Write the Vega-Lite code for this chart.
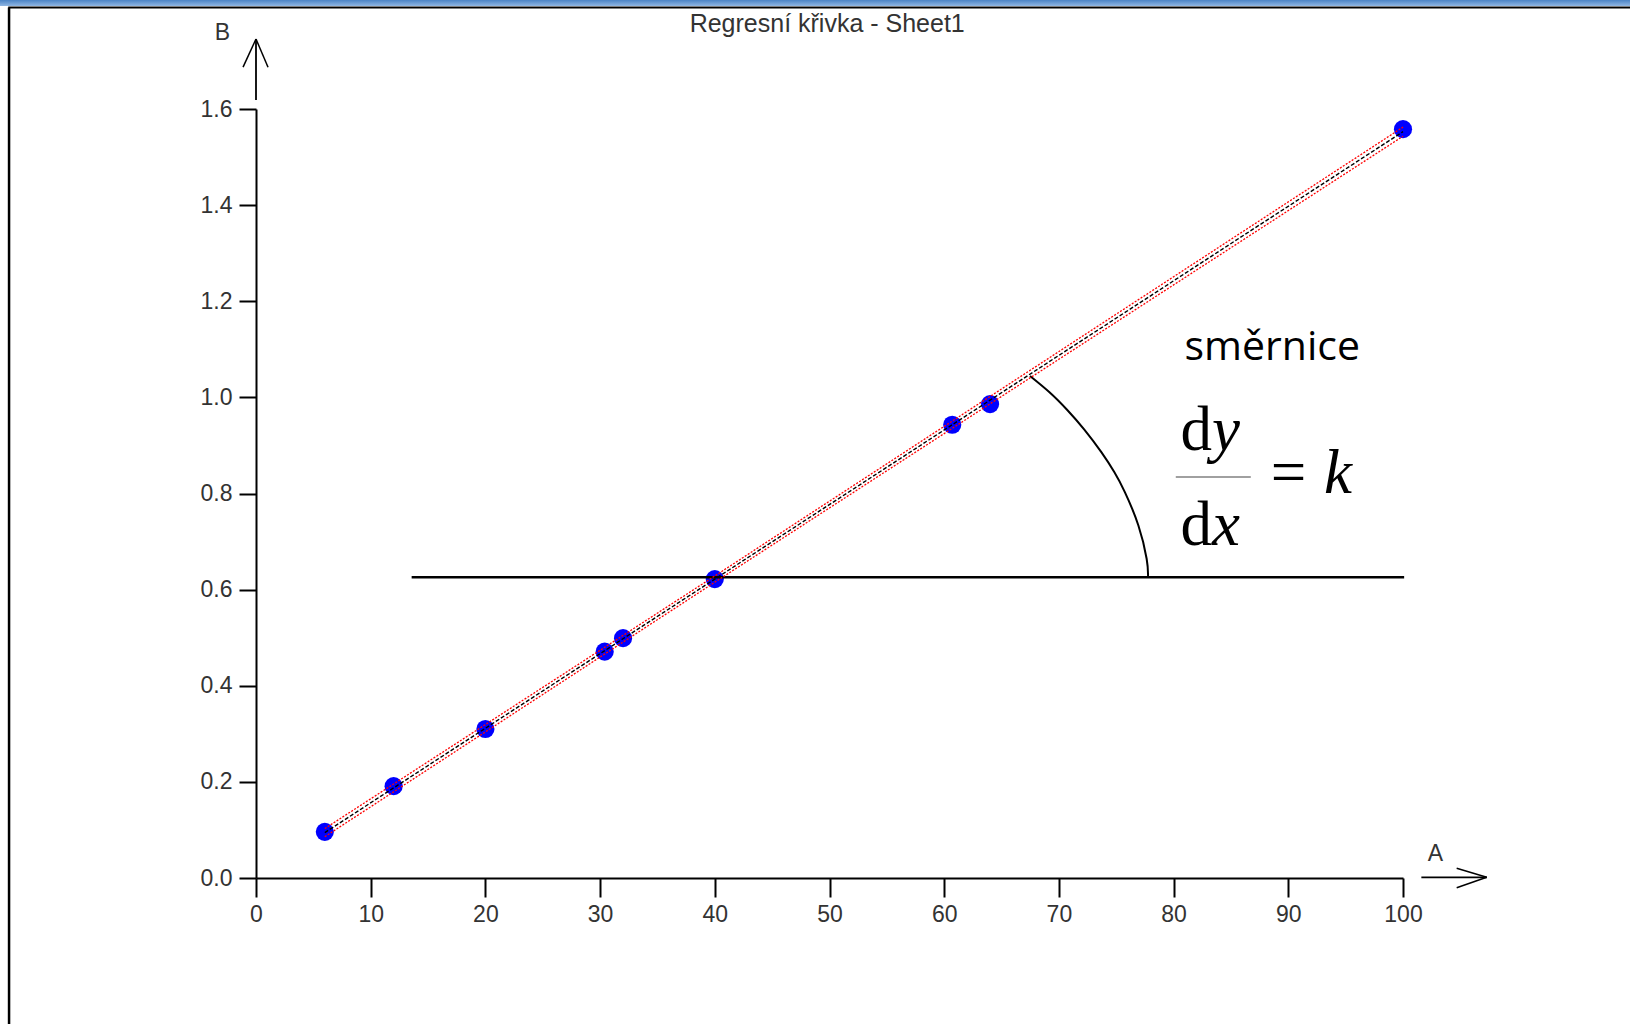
{
  "$schema": "https://vega.github.io/schema/vega-lite/v6.json",
  "width": 1147,
  "height": 769,
  "autosize": {"type": "none"},
  "padding": {"left": 256, "top": 109, "right": 227, "bottom": 146},
  "background": "white",
  "config": {
    "view": {"stroke": null},
    "axis": {
      "grid": false,
      "domainColor": "#000000",
      "domainWidth": 2,
      "tickColor": "#000000",
      "tickWidth": 2,
      "labelFont": "Liberation Sans",
      "labelFontSize": 23,
      "labelColor": "#333333",
      "labelFlush": false,
      "labelOverlap": false,
      "titleFont": "Liberation Sans",
      "titleFontSize": 23,
      "titleFontWeight": "normal",
      "titleColor": "#333333"
    }
  },
  "datasets": {
    "measurements": [
      {"A": 6, "B": 0.096},
      {"A": 12, "B": 0.191},
      {"A": 20, "B": 0.31},
      {"A": 30.4, "B": 0.471},
      {"A": 32, "B": 0.499},
      {"A": 40, "B": 0.622},
      {"A": 60.7, "B": 0.943},
      {"A": 64, "B": 0.986},
      {"A": 100, "B": 1.558}
    ],
    "regression": [
      {"A": 6, "fit": 0.0944, "upper": 0.1029, "lower": 0.0859},
      {"A": 40, "fit": 0.6219, "upper": 0.6284, "lower": 0.6154},
      {"A": 100, "fit": 1.5528, "upper": 1.5623, "lower": 1.5433}
    ],
    "angleArc": [
      {"A": 67.48, "B": 1.0445},
      {"A": 69.18, "B": 1.0106},
      {"A": 70.71, "B": 0.9742},
      {"A": 72.2, "B": 0.9334},
      {"A": 73.7, "B": 0.886},
      {"A": 74.84, "B": 0.8442},
      {"A": 75.75, "B": 0.803},
      {"A": 76.93, "B": 0.7335},
      {"A": 77.65, "B": 0.6642},
      {"A": 77.77, "B": 0.6327},
      {"A": 77.78, "B": 0.6273}
    ]
  },
  "layer": [
    {
      "data": {"name": "measurements"},
      "mark": {"type": "point", "filled": true, "color": "#0000ff", "size": 330, "opacity": 1},
      "encoding": {
        "x": {
          "field": "A",
          "type": "quantitative",
          "scale": {"domain": [0, 100], "nice": false, "zero": false},
          "axis": {
            "values": [0, 10, 20, 30, 40, 50, 60, 70, 80, 90, 100],
            "tickSize": 19,
            "labelPadding": 6,
            "title": "A",
            "titleX": 1179,
            "titleY": -25,
            "titleAlign": "center",
            "titleBaseline": "middle"
          }
        },
        "y": {
          "field": "B",
          "type": "quantitative",
          "scale": {"domain": [0, 1.6], "nice": false, "zero": false},
          "axis": {
            "values": [0, 0.2, 0.4, 0.6, 0.8, 1.0, 1.2, 1.4, 1.6],
            "format": ".1f",
            "tickSize": 17,
            "labelPadding": 7,
            "title": "B",
            "titleX": -34,
            "titleY": -77,
            "titleAngle": 0,
            "titleAlign": "center",
            "titleBaseline": "middle"
          }
        }
      }
    },
    {
      "data": {"values": [{}]},
      "mark": {
        "type": "rect",
        "fill": {
          "gradient": "linear", "x1": 0, "y1": 0, "x2": 0, "y2": 1,
          "stops": [{"offset": 0, "color": "#4a82c4"}, {"offset": 1, "color": "#8fb6e3"}]
        }
      },
      "encoding": {
        "x": {"datum": -22.32, "type": "quantitative"},
        "x2": {"datum": 119.8},
        "y": {"datum": 1.827, "type": "quantitative"},
        "y2": {"datum": 1.8144}
      }
    },
    {
      "data": {"values": [{}]},
      "mark": {"type": "rule", "color": "#000000", "strokeWidth": 2},
      "encoding": {
        "x": {"datum": -21.6, "type": "quantitative"},
        "x2": {"datum": 119.8},
        "y": {"datum": 1.8113, "type": "quantitative"}
      }
    },
    {
      "data": {"values": [{}]},
      "mark": {"type": "rule", "color": "#000000", "strokeWidth": 2.5},
      "encoding": {
        "x": {"datum": -21.53, "type": "quantitative"},
        "y": {"datum": 1.8113, "type": "quantitative"},
        "y2": {"datum": -0.3038}
      }
    },
    {
      "data": {"values": [{}]},
      "mark": {"type": "text", "text": "Regresní křivka - Sheet1", "font": "Liberation Sans", "fontSize": 25, "color": "#333333", "align": "center", "baseline": "alphabetic"},
      "encoding": {
        "x": {"datum": 49.8, "type": "quantitative"},
        "y": {"datum": 1.76, "type": "quantitative"}
      }
    },
    {
      "data": {"values": [{}]},
      "mark": {"type": "rule", "color": "#000000", "strokeWidth": 1.8},
      "encoding": {
        "x": {"datum": 0, "type": "quantitative"},
        "y": {"datum": 1.6188, "type": "quantitative"},
        "y2": {"datum": 1.7457}
      }
    },
    {
      "data": {"values": [{}]},
      "mark": {"type": "rule", "color": "#000000", "strokeWidth": 1.5},
      "encoding": {
        "x": {"datum": -1.13, "type": "quantitative"},
        "x2": {"datum": 0},
        "y": {"datum": 1.687, "type": "quantitative"},
        "y2": {"datum": 1.7457}
      }
    },
    {
      "data": {"values": [{}]},
      "mark": {"type": "rule", "color": "#000000", "strokeWidth": 1.5},
      "encoding": {
        "x": {"datum": 1.05, "type": "quantitative"},
        "x2": {"datum": 0},
        "y": {"datum": 1.687, "type": "quantitative"},
        "y2": {"datum": 1.7457}
      }
    },
    {
      "data": {"values": [{}]},
      "mark": {"type": "rule", "color": "#000000", "strokeWidth": 1.8},
      "encoding": {
        "x": {"datum": 101.6, "type": "quantitative"},
        "x2": {"datum": 107.3},
        "y": {"datum": 0.0015, "type": "quantitative"}
      }
    },
    {
      "data": {"values": [{}]},
      "mark": {"type": "rule", "color": "#000000", "strokeWidth": 1.5},
      "encoding": {
        "x": {"datum": 104.68, "type": "quantitative"},
        "x2": {"datum": 107.3},
        "y": {"datum": 0.0202, "type": "quantitative"},
        "y2": {"datum": 0.0015}
      }
    },
    {
      "data": {"values": [{}]},
      "mark": {"type": "rule", "color": "#000000", "strokeWidth": 1.5},
      "encoding": {
        "x": {"datum": 104.68, "type": "quantitative"},
        "x2": {"datum": 107.3},
        "y": {"datum": -0.0202, "type": "quantitative"},
        "y2": {"datum": 0.0015}
      }
    },
    {
      "data": {"values": [{}]},
      "mark": {"type": "rule", "color": "#000000", "strokeWidth": 2.5},
      "encoding": {
        "x": {"datum": 13.57, "type": "quantitative"},
        "x2": {"datum": 100.1},
        "y": {"datum": 0.626, "type": "quantitative"}
      }
    },
    {
      "data": {"name": "angleArc"},
      "mark": {"type": "line", "color": "#000000", "strokeWidth": 2, "interpolate": "natural"},
      "encoding": {
        "x": {"field": "A", "type": "quantitative"},
        "y": {"field": "B", "type": "quantitative"}
      }
    },
    {
      "data": {"name": "regression"},
      "transform": [{"fold": ["upper", "lower"], "as": ["band", "bound"]}],
      "mark": {"type": "line", "color": "#ff0000", "strokeWidth": 1.3, "strokeDash": [2, 1.5]},
      "encoding": {
        "x": {"field": "A", "type": "quantitative"},
        "y": {"field": "bound", "type": "quantitative"},
        "detail": {"field": "band"}
      }
    },
    {
      "data": {"name": "regression"},
      "mark": {"type": "line", "color": "#000000", "strokeWidth": 1.4, "strokeDash": [4, 2]},
      "encoding": {
        "x": {"field": "A", "type": "quantitative"},
        "y": {"field": "fit", "type": "quantitative"}
      }
    },
    {
      "data": {"values": [{}]},
      "mark": {"type": "rule", "color": "#808080", "strokeWidth": 1.5},
      "encoding": {
        "x": {"datum": 80.19, "type": "quantitative"},
        "x2": {"datum": 86.73},
        "y": {"datum": 0.8344, "type": "quantitative"}
      }
    },
    {
      "data": {"values": [{}]},
      "mark": {"type": "text", "text": "směrnice", "font": "Open Sans", "fontSize": 41, "color": "#000000", "align": "center", "baseline": "alphabetic"},
      "encoding": {
        "x": {"datum": 88.6, "type": "quantitative"},
        "y": {"datum": 1.078, "type": "quantitative"}
      }
    },
    {
      "data": {"values": [{}]},
      "mark": {"type": "text", "text": "d", "font": "Liberation Serif", "fontSize": 63, "color": "#000000", "align": "right", "baseline": "alphabetic"},
      "encoding": {
        "x": {"datum": 83.35, "type": "quantitative"},
        "y": {"datum": 0.8906, "type": "quantitative"}
      }
    },
    {
      "data": {"values": [{}]},
      "mark": {"type": "text", "text": "y", "font": "Liberation Serif", "fontStyle": "italic", "fontSize": 63, "color": "#000000", "align": "left", "baseline": "alphabetic"},
      "encoding": {
        "x": {"datum": 83.35, "type": "quantitative"},
        "y": {"datum": 0.8906, "type": "quantitative"}
      }
    },
    {
      "data": {"values": [{}]},
      "mark": {"type": "text", "text": "d", "font": "Liberation Serif", "fontSize": 63, "color": "#000000", "align": "right", "baseline": "alphabetic"},
      "encoding": {
        "x": {"datum": 83.35, "type": "quantitative"},
        "y": {"datum": 0.6929, "type": "quantitative"}
      }
    },
    {
      "data": {"values": [{}]},
      "mark": {"type": "text", "text": "x", "font": "Liberation Serif", "fontStyle": "italic", "fontSize": 63, "color": "#000000", "align": "left", "baseline": "alphabetic"},
      "encoding": {
        "x": {"datum": 83.35, "type": "quantitative"},
        "y": {"datum": 0.6929, "type": "quantitative"}
      }
    },
    {
      "data": {"values": [{}]},
      "mark": {"type": "text", "text": "=", "font": "Liberation Serif", "fontSize": 63, "color": "#000000", "align": "center", "baseline": "alphabetic"},
      "encoding": {
        "x": {"datum": 90.02, "type": "quantitative"},
        "y": {"datum": 0.801, "type": "quantitative"}
      }
    },
    {
      "data": {"values": [{}]},
      "mark": {"type": "text", "text": "k", "font": "Liberation Serif", "fontStyle": "italic", "fontSize": 63, "color": "#000000", "align": "center", "baseline": "alphabetic"},
      "encoding": {
        "x": {"datum": 94.33, "type": "quantitative"},
        "y": {"datum": 0.801, "type": "quantitative"}
      }
    }
  ]
}
